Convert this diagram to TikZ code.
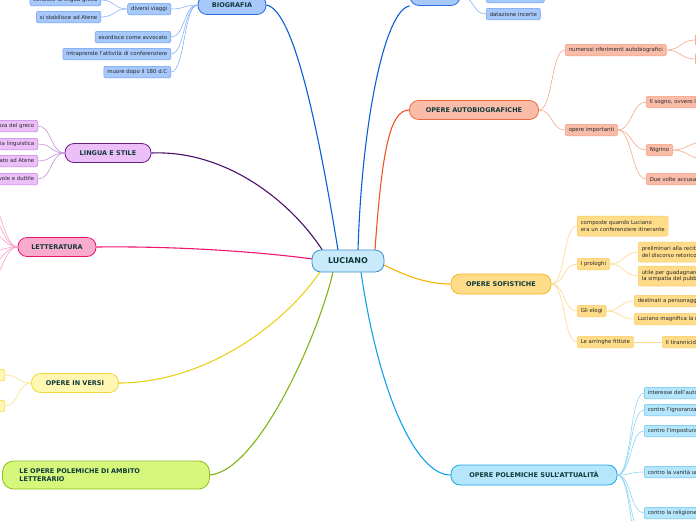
\documentclass[tikz,border=0pt]{standalone}
\usepackage{fontspec}
\setmainfont{DejaVu Sans}
\definecolor{txtdark}{RGB}{15,58,58}
\definecolor{txtleaf}{RGB}{40,40,40}
\definecolor{lucfill}{RGB}{200,234,251}
\definecolor{lucbd}{RGB}{59,143,208}
\definecolor{biofill}{RGB}{166,200,250}
\definecolor{biobd}{RGB}{42,110,224}
\definecolor{bioline}{RGB}{11,94,215}
\definecolor{biotwig}{RGB}{138,180,248}
\definecolor{biolbd}{RGB}{106,158,240}
\definecolor{lingfill}{RGB}{236,191,249}
\definecolor{lingbd}{RGB}{110,31,130}
\definecolor{lingline}{RGB}{74,14,106}
\definecolor{lingtwig}{RGB}{196,146,214}
\definecolor{linglbd}{RGB}{192,128,224}
\definecolor{letfill}{RGB}{249,171,205}
\definecolor{letbd}{RGB}{232,23,108}
\definecolor{letline}{RGB}{240,22,110}
\definecolor{lettwig}{RGB}{248,160,200}
\definecolor{versfill}{RGB}{255,247,178}
\definecolor{versbd}{RGB}{240,216,58}
\definecolor{versline}{RGB}{232,210,26}
\definecolor{verstwig}{RGB}{245,230,128}
\definecolor{polfill}{RGB}{214,247,124}
\definecolor{polbd}{RGB}{140,192,28}
\definecolor{polline}{RGB}{130,180,20}
\definecolor{autofill}{RGB}{249,188,169}
\definecolor{autobd}{RGB}{240,106,64}
\definecolor{autoline}{RGB}{240,83,36}
\definecolor{autotwig}{RGB}{249,168,140}
\definecolor{autolbd}{RGB}{245,157,128}
\definecolor{sofifill}{RGB}{255,220,138}
\definecolor{sofibd}{RGB}{249,181,41}
\definecolor{sofiline}{RGB}{248,177,8}
\definecolor{sofitwig}{RGB}{253,216,138}
\definecolor{sofilbd}{RGB}{252,202,96}
\definecolor{attfill}{RGB}{181,230,251}
\definecolor{attbd}{RGB}{26,167,234}
\definecolor{attline}{RGB}{16,162,234}
\definecolor{atttwig}{RGB}{143,212,245}
\definecolor{attlbd}{RGB}{98,194,240}

\begin{document}
\begin{tikzpicture}[x=1pt,y=-1pt,
	hub/.style={draw=lucbd, fill=lucfill, line width=0.8pt, rounded corners=9pt, minimum width=72pt, minimum height=22pt, font=\fontsize{8}{9}\selectfont\bfseries, text=txtdark},
	branch/.style={line width=0.8pt, rounded corners=9pt, minimum height=19pt, font=\fontsize{6.5}{8}\selectfont\bfseries, text=txtdark},
	leaf/.style={line width=0.5pt, rounded corners=2pt, minimum height=11.5pt, inner xsep=3.5pt, inner ysep=1pt, font=\fontsize{5.4}{6.8}\selectfont, text=txtleaf},
	bleaf/.style={leaf, fill=biofill, draw=biolbd},
	lleaf/.style={leaf, fill=lingfill, draw=linglbd},
	vleaf/.style={leaf, fill=versfill, draw=versbd},
	aleaf/.style={leaf, fill=autofill, draw=autolbd},
	sleaf/.style={leaf, fill=sofifill, draw=sofilbd},
	tleaf/.style={leaf, fill=attfill, draw=attlbd},
	trunk/.style={line width=1.1pt},
	twig/.style={line width=0.6pt}]
	\useasboundingbox (0,0) rectangle (696,520);
	\fill[white] (0,0) rectangle (696,520);

	% main branches
	\node[branch, fill=biofill, draw=biobd, minimum width=68pt] (bio) at (232,5) {BIOGRAFIA};
	\node[branch, fill=biofill, draw=biobd, minimum width=50pt] (opere) at (435,-4) {};
	\node[branch, fill=lingfill, draw=lingbd, minimum width=86pt] (ling) at (108,153) {LINGUA E STILE};
	\node[branch, fill=letfill, draw=letbd, minimum width=78pt] (lett) at (57,247) {LETTERATURA};
	\node[branch, fill=versfill, draw=versbd, minimum width=87pt] (vers) at (75,383) {OPERE IN VERSI};
	\node[branch, fill=polfill, draw=polbd, minimum height=28pt, rounded corners=11pt, text width=173pt, inner xsep=17pt, align=left] (pollet) at (106,475) {LE OPERE POLEMICHE DI AMBITO\\LETTERARIO};
	\node[branch, fill=autofill, draw=autobd, minimum width=129pt] (auto) at (474,110) {OPERE AUTOBIOGRAFICHE};
	\node[branch, fill=sofifill, draw=sofibd, minimum width=100pt, minimum height=20pt] (sofi) at (501,284) {OPERE SOFISTICHE};
	\node[branch, fill=attfill, draw=attbd, minimum width=166pt, minimum height=20pt] (att) at (534,475) {OPERE POLEMICHE SULL'ATTUALITÀ};

	\draw[trunk, bioline] (bio.east) .. controls (295,10) and (320,140) .. (338,250);
	\draw[trunk, bioline] (358,250) .. controls (362,120) and (385,10) .. (opere.south west);
	\draw[trunk, lingline] (ling.east) .. controls (225,150) and (290,200) .. (323,251);
	\draw[trunk, letline] (lett.east) .. controls (180,246) and (260,252) .. (313,259);
	\draw[trunk, versline] (vers.east) .. controls (200,383) and (280,330) .. (320,272);
	\draw[trunk, polline] (pollet.east) .. controls (260,470) and (320,330) .. (333,272);
	\draw[trunk, autoline] (375,250) .. controls (382,150) and (390,110) .. (auto.west);
	\draw[trunk, sofiline] (384,265) .. controls (410,278) and (430,284) .. (sofi.west);
	\draw[trunk, attline] (361,272) .. controls (378,390) and (415,475) .. (att.west);

	\node[hub] (luc) at (348,261) {LUCIANO};

	% BIOGRAFIA
	\node[bleaf, anchor=east] (viaggi) at (171,9) {diversi viaggi};
	\node[bleaf, anchor=east] (avvoc) at (171,37) {esordisce come avvocato};
	\node[bleaf, anchor=east] (confer) at (171,54) {intraprende l'attività di conferenziere};
	\node[bleaf, anchor=east] (muore) at (171,72) {muore dopo il 180 d.C};
	\node[bleaf, anchor=east] (greca) at (101,0) {conosce la lingua greca};
	\node[bleaf, anchor=east] (atene) at (101,17) {si stabilisce ad Atene};
	\foreach \n in {viaggi,avvoc,confer,muore}
		\draw[twig, biotwig] (bio.west) .. controls +(-14,0) and +(14,0) .. (\n.east);
	\foreach \n in {greca,atene}
		\draw[twig, biotwig] (viaggi.west) .. controls +(-14,0) and +(14,0) .. (\n.east);

	\node[bleaf, anchor=west, minimum width=58pt] (opera) at (486,-3) {};
	\node[bleaf, anchor=west] (dataz) at (486,14) {datazione incerte};
	\foreach \n in {opera,dataz}
		\draw[twig, biotwig] (opere.east) .. controls +(14,0) and +(-14,0) .. (\n.west);

	% LINGUA E STILE
	\node[lleaf, anchor=east] (greco) at (38,126) {padronanza del greco};
	\node[lleaf, anchor=east] (perizia) at (38,144) {perizia linguistica};
	\node[lleaf, anchor=east] (attico) at (38,161) {attico imparato ad Atene};
	\node[lleaf, anchor=east] (duttile) at (38,179) {stile piacevole e duttile};
	\foreach \n in {greco,perizia,attico,duttile}
		\draw[twig, lingtwig] (ling.west) .. controls +(-14,0) and +(14,0) .. (\n.east);

	% LETTERATURA
	\foreach \y [count=\i] in {198,214,230,252,266,284}
		\coordinate (lt\i) at (-12,\y);
	\foreach \i in {1,...,6}
		\draw[twig, lettwig] (lett.west) .. controls +(-14,0) and +(12,0) .. (lt\i);

	% OPERE IN VERSI
	\node[vleaf, anchor=east, minimum width=40pt] (versa) at (5,375) {};
	\node[vleaf, anchor=east, minimum width=40pt] (versb) at (5,406) {};
	\foreach \n in {versa,versb}
		\draw[twig, verstwig] (vers.west) .. controls +(-14,0) and +(14,0) .. (\n.east);

	% OPERE AUTOBIOGRAFICHE
	\node[aleaf, anchor=west] (rifer) at (565,50) {numerosi riferimenti autobiografici};
	\node[aleaf, anchor=west] (import) at (565,130) {opere importanti};
	\foreach \n in {rifer,import}
		\draw[twig, autotwig] (auto.east) .. controls +(14,0) and +(-14,0) .. (\n.west);
	\node[aleaf, anchor=west, minimum width=40pt] (rifa) at (695,40) {};
	\node[aleaf, anchor=west, minimum width=40pt] (rifb) at (695,59) {};
	\foreach \n in {rifa,rifb}
		\draw[twig, autotwig] (rifer.east) .. controls +(14,0) and +(-14,0) .. (\n.west);
	\node[aleaf, anchor=west] (sogno) at (646,102) {Il sogno, ovvero la vita di Luciano};
	\node[aleaf, anchor=west] (nigrino) at (646,150) {Nigrino};
	\node[aleaf, anchor=west] (accusa) at (646,179) {Due volte accusato};
	\foreach \n in {sogno,nigrino,accusa}
		\draw[twig, autotwig] (import.east) .. controls +(14,0) and +(-14,0) .. (\n.west);
	\coordinate (niga) at (706,141);
	\coordinate (nigb) at (706,160);
	\foreach \n in {niga,nigb}
		\draw[twig, autotwig] (nigrino.east) .. controls +(14,0) and +(-14,0) .. (\n);

	% OPERE SOFISTICHE
	\node[sleaf, anchor=west, align=left, minimum height=20pt] (compo) at (577,226) {composte quando Luciano\\ era un conferenziere itinerante};
	\node[sleaf, anchor=west] (prolog) at (577,264) {I prologhi};
	\node[sleaf, anchor=west] (elogi) at (577,311) {Gli elogi};
	\node[sleaf, anchor=west] (arring) at (577,342) {Le arringhe fittizie};
	\foreach \n in {compo,prolog,elogi,arring}
		\draw[twig, sofitwig] (sofi.east) .. controls +(14,0) and +(-14,0) .. (\n.west);
	\node[sleaf, anchor=west, align=left, minimum height=20pt] (prelim) at (638,252) {preliminari alla recitazione\\del discorso retorico};
	\node[sleaf, anchor=west, align=left, minimum height=20pt] (simpat) at (638,276) {utile per guadagnare\\ la simpatia del pubblico};
	\foreach \n in {prelim,simpat}
		\draw[twig, sofitwig] (prolog.east) .. controls +(14,0) and +(-14,0) .. (\n.west);
	\node[sleaf, anchor=west] (destin) at (634,301) {destinati a personaggi illustri};
	\node[sleaf, anchor=west] (magnif) at (634,319) {Luciano magnifica la mosca};
	\foreach \n in {destin,magnif}
		\draw[twig, sofitwig] (elogi.east) .. controls +(14,0) and +(-14,0) .. (\n.west);
	\node[sleaf, anchor=west] (tiran) at (662,342) {Il tirannicida};
	\draw[twig, sofitwig] (arring) -- (tiran);

	% OPERE POLEMICHE SULL'ATTUALITA
	\node[tleaf, anchor=west] (autore) at (644,393) {interesse dell'autore per la società};
	\node[tleaf, anchor=west] (ignor) at (644,410) {contro l'ignoranza};
	\node[tleaf, anchor=west] (impost) at (644,431) {contro l'impostura};
	\node[tleaf, anchor=west] (vanita) at (644,472) {contro la vanità umana};
	\node[tleaf, anchor=west] (relig) at (644,513) {contro la religione tradizionale};
	\node[tleaf, anchor=west] (filos) at (644,538) {contro i filosofi};
	\node[tleaf, anchor=west] (super) at (644,556) {contro la superstizione};
	\foreach \n in {autore,ignor,impost,vanita,relig,filos,super}
		\draw[twig, atttwig] (att.east) .. controls +(14,0) and +(-14,0) .. (\n.west);
\end{tikzpicture}
\end{document}
